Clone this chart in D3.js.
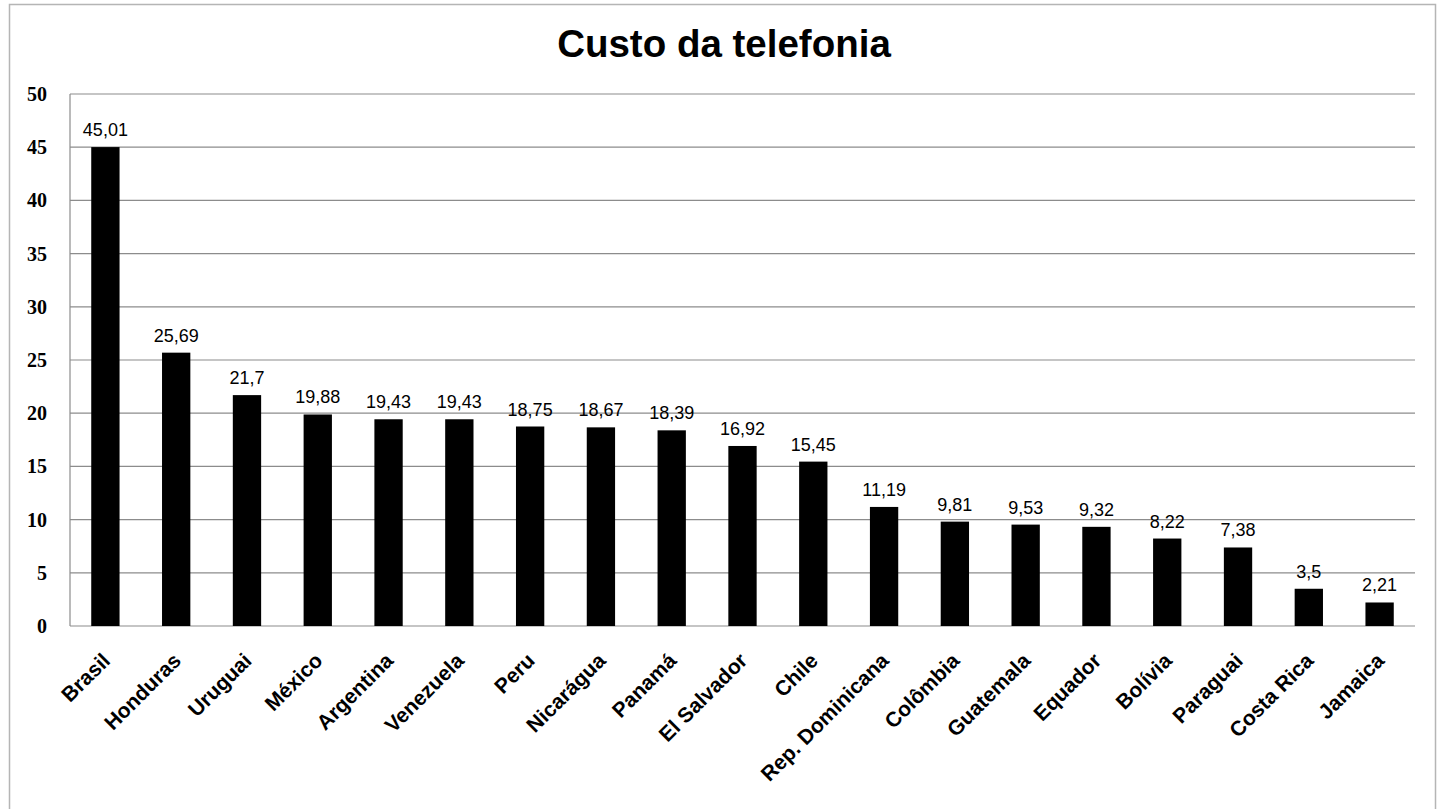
<!DOCTYPE html>
<html>
<head>
<meta charset="utf-8">
<script src="https://cdn.jsdelivr.net/npm/d3@7"></script>
<style>
  body { margin: 0; background: #fff; }
</style>
</head>
<body>
<div id="chart"></div>
<script>
// data
var countries = ["Brasil", "Honduras", "Uruguai", "México", "Argentina", "Venezuela", "Peru",
    "Nicarágua", "Panamá", "El Salvador", "Chile", "Rep. Dominicana", "Colômbia", "Guatemala",
    "Equador", "Bolívia", "Paraguai", "Costa Rica", "Jamaica"]
var values = [45.01, 25.69, 21.7, 19.88, 19.43, 19.43, 18.75, 18.67, 18.39, 16.92, 15.45,
    11.19, 9.81, 9.53, 9.32, 8.22, 7.38, 3.5, 2.21]
var yTicks = [0, 5, 10, 15, 20, 25, 30, 35, 40, 45, 50]

var W = 1444, H = 809
var margin = { top: 94, right: 29, bottom: 183, left: 70 },
    width = W - margin.left - margin.right,
    height = H - margin.top - margin.bottom

var svg = d3.select("#chart").append("svg")
    .attr("width", W)
    .attr("height", H)

// outer frame
svg.append("rect")
    .attr("x", 9.5).attr("y", 4.5)
    .attr("width", 1426).attr("height", 830)
    .attr("fill", "none")
    .attr("stroke", "#b5b5b5")
    .attr("stroke-width", 1.5)

svg.append("text")
    .attr("x", 724).attr("y", 57)
    .attr("text-anchor", "middle")
    .style("font", "bold 38.5px 'Liberation Sans', Arial, sans-serif")
    .text("Custo da telefonia")

var g = svg.append("g")
    .attr("transform", "translate(" + margin.left + "," + margin.top + ")")

var x = d3.scaleBand()
    .domain(countries)
    .range([0, width])
    .paddingInner(0.6)
    .paddingOuter(0.3)

var y = d3.scaleLinear()
    .domain([0, 50])
    .range([height, 0])

// grid lines
g.selectAll(".grid")
    .data(yTicks)
    .enter().append("line")
    .attr("x1", 0).attr("x2", width)
    .attr("y1", function (d) { return y(d) })
    .attr("y2", function (d) { return y(d) })
    .attr("stroke", "#8c8c8c")
    .attr("stroke-width", 1.2)

// left axis line
g.append("line")
    .attr("x1", 0).attr("x2", 0)
    .attr("y1", 0).attr("y2", height)
    .attr("stroke", "#8c8c8c")
    .attr("stroke-width", 1.2)

// y axis labels
var yAxis = d3.axisLeft(y)
    .tickValues(yTicks)
    .tickSize(0)
    .tickPadding(23)
g.append("g")
    .call(yAxis)
    .call(function (a) { a.select(".domain").remove() })
    .selectAll("text")
    .style("font", "bold 20px 'Liberation Serif', 'Times New Roman', serif")
    .attr("fill", "#000")

// bars
g.selectAll(".bar")
    .data(values)
    .enter().append("rect")
    .attr("x", function (d, i) { return x(countries[i]) })
    .attr("y", function (d) { return y(d) })
    .attr("width", x.bandwidth())
    .attr("height", function (d) { return height - y(d) })
    .attr("fill", "#000")

// value labels
g.selectAll(".val")
    .data(values)
    .enter().append("text")
    .attr("x", function (d, i) { return x(countries[i]) + x.bandwidth() / 2 })
    .attr("y", function (d) { return y(d) - 11 })
    .attr("text-anchor", "middle")
    .style("font", "18px 'Liberation Sans', Arial, sans-serif")
    .text(function (d) { return String(d).replace(".", ",") })

// category labels
var xAxis = d3.axisBottom(x).tickSize(0).tickPadding(0)
g.append("g")
    .attr("transform", "translate(0," + height + ")")
    .call(xAxis)
    .call(function (a) { a.select(".domain").remove() })
    .selectAll("text")
    .style("font", "bold 21px 'Liberation Sans', Arial, sans-serif")
    .attr("fill", "#000")
    .attr("text-anchor", "end")
    .attr("dy", 0)
    .attr("transform", "translate(6,36) rotate(-45)")
</script>
</body>
</html>
